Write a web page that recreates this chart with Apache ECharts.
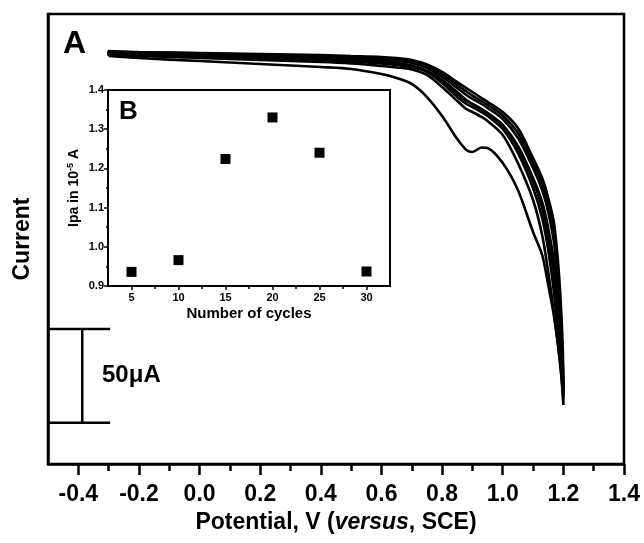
<!DOCTYPE html>
<html>
<head>
<meta charset="utf-8">
<script src="https://cdn.jsdelivr.net/npm/echarts@6/dist/echarts.min.js"></script>
<style>html,body{margin:0;padding:0;background:#fff;}#c{width:644px;height:543px;}</style>
</head>
<body>
<div id="c"></div>
<script>
// ---- Main CV data (potential in V vs SCE, current in µA, arbitrary offset) ----
const potential = [-0.3,-0.2,0,0.2,0.4,0.5,0.6,0.65,0.7,0.75,0.8,0.85,0.88,0.9,0.93,0.95,1.0,1.05,1.1,1.13,1.15,1.17,1.19,1.2];
const fwd1 = [-2.4,-3.5,-5.1,-6.7,-8.3,-9.3,-12.0,-14.1,-17.3,-24.3,-34.4,-46.7,-52.5,-53.6,-51.2,-51.5,-59.5,-73.9,-96.3,-108.5,-124.5,-142.1,-167.2,-188.5];
const fwd2 = [-1.9,-2.4,-3.5,-4.5,-5.6,-6.4,-7.7,-8.5,-9.6,-12.5,-18.9,-26.4,-30.7,-32.3,-34.9,-37.1,-44.5,-59.5,-79.2,-97.9,-117.6,-140.5,-167.2,-184.8];
const fwd3 = [-1.3,-1.9,-2.9,-3.7,-4.5,-5.3,-6.4,-7.2,-8.3,-10.9,-16.8,-24.3,-28.0,-29.6,-32.3,-34.4,-41.3,-54.1,-72.8,-88.8,-105.9,-129.9,-161.9,-181.6];
const fwd4 = [-1.1,-1.6,-2.4,-3.2,-4.0,-4.8,-5.6,-6.7,-7.7,-10.7,-15.7,-22.7,-26.4,-28.0,-30.7,-32.8,-39.2,-51.5,-69.1,-83.5,-99.5,-120.8,-156.5,-179.2];
const revA = [0.3,-0.3,-0.8,-1.3,-1.9,-2.4,-2.9,-3.5,-4.5,-6.9,-10.9,-16.3,-19.5,-21.6,-24.8,-26.9,-32.3,-40.8,-56.8,-67.5,-78.1,-92.5,-129.9,-177.9];
const revB = [-0.3,-0.8,-1.3,-2.1,-2.9,-3.5,-4.3,-5.1,-6.1,-8.8,-13.6,-19.5,-23.2,-25.3,-28.0,-30.1,-36.0,-46.1,-62.1,-73.9,-85.6,-103.2,-143.2,-180.5];
const revC = [-0.5,-1.1,-1.9,-2.7,-3.5,-4.3,-5.1,-6.1,-7.5,-10.4,-15.2,-21.6,-25.9,-28.0,-30.7,-32.8,-39.2,-50.4,-67.5,-80.3,-94.1,-113.9,-151.2,-183.2];
const revD = [0.0,-0.5,-1.0,-1.7,-2.4,-2.9,-3.6,-4.3,-5.3,-7.8,-12.2,-17.9,-21.3,-23.5,-26.4,-28.5,-34.1,-43.5,-59.5,-70.7,-81.9,-97.9,-136.5,-179.2];

// scale bar (50 µA)
const scaleBarX = [-0.5, -0.295];
const scaleBarStemX = -0.387;
const scaleBarY = [-198, -148];

// axis ticks
const xMajorTicks = [-0.4,-0.2,0.0,0.2,0.4,0.6,0.8,1.0,1.2,1.4];
const xMinorTicks = [-0.3,-0.1,0.1,0.3,0.5,0.7,0.9,1.1,1.3];

// ---- Inset data ----
const cycles = [5,10,15,20,25,30];
const ipa = [0.936,0.966,1.224,1.330,1.240,0.937];
const insetXTicks = [5,10,15,20,25,30];
const insetXMinor = [7.5,12.5,17.5,22.5,27.5];
const insetYTicks = [0.9,1.0,1.1,1.2,1.3,1.4];
const insetYMinor = [0.95,1.05,1.15,1.25,1.35];

const FONT = 'Liberation Sans, Arial, sans-serif';

function loop(fwd, rev){
  const d = potential.map((e,i)=>[e,fwd[i]]);
  for(let i=potential.length-1;i>=0;i--) d.push([potential[i],rev[i]]);
  d.push([potential[0],fwd[0]]);
  return d;
}
const loops = [[fwd1,revC],[fwd2,revB],[fwd3,revA],[fwd4,revD]];

const chart = echarts.init(document.getElementById('c'), null, {renderer:'canvas'});
const lineSeries = loops.map((p)=>({
  type:'line', xAxisIndex:0, yAxisIndex:0, data:loop(p[0],p[1]),
  showSymbol:false, smooth:0.3, lineStyle:{color:'#000', width:2.6}, silent:true, z:3
}));
const barLine = (pts)=>({type:'line', xAxisIndex:0, yAxisIndex:0, data:pts, showSymbol:false,
  lineStyle:{color:'#000', width:2.5}, silent:true, z:3});

chart.setOption({
  animation:false,
  backgroundColor:'#fff',
  grid:[
    {left:48, top:14, right:20, bottom:79, show:true, borderColor:'#000', borderWidth:2.5},
    {left:108, top:90, width:282, height:196, show:true, borderColor:'#000', borderWidth:2, backgroundColor:'#fff', z:5}
  ],
  xAxis:[
    {type:'value', gridIndex:0, min:-0.5, max:1.4,
     axisLine:{show:true, onZero:false, lineStyle:{color:'#000', width:2.5}},
     axisTick:{show:true, customValues:xMajorTicks, length:11, lineStyle:{color:'#000', width:2.5}},
     axisLabel:{show:true, customValues:xMajorTicks, margin:19, color:'#000', fontSize:23, fontWeight:'bold', fontFamily:FONT,
       formatter:(v)=>v.toFixed(1)},
     splitLine:{show:false},
     name:'{b|Potential, V (}{i|versus}{b|, SCE)}', nameLocation:'middle', nameGap:46,
     nameTextStyle:{rich:{
       b:{fontSize:23, fontWeight:'bold', fontFamily:FONT, color:'#000'},
       i:{fontSize:23, fontWeight:'bold', fontStyle:'italic', fontFamily:FONT, color:'#000'}}}
    },
    {type:'value', gridIndex:0, min:-0.5, max:1.4, position:'bottom',
     axisLine:{show:false, onZero:false}, axisLabel:{show:false}, splitLine:{show:false},
     axisTick:{show:true, customValues:xMinorTicks, length:7, lineStyle:{color:'#000', width:2.5}}},
    {type:'value', gridIndex:1, min:2.5, max:32.5,
     axisLine:{show:true, onZero:false, lineStyle:{color:'#000', width:2}},
     axisTick:{show:true, customValues:insetXTicks, length:4, lineStyle:{color:'#000', width:1.5}},
     axisLabel:{show:true, customValues:insetXTicks, margin:6, color:'#000', fontSize:11, fontWeight:'bold', fontFamily:FONT},
     splitLine:{show:false},
     name:'Number of cycles', nameLocation:'middle', nameGap:20,
     nameTextStyle:{fontSize:15, fontWeight:'bold', fontFamily:FONT, color:'#000'}},
    {type:'value', gridIndex:1, min:2.5, max:32.5, position:'bottom',
     axisLine:{show:false, onZero:false}, axisLabel:{show:false}, splitLine:{show:false},
     axisTick:{show:true, customValues:insetXMinor, length:3, lineStyle:{color:'#000', width:1.5}}}
  ],
  yAxis:[
    {type:'value', gridIndex:0, min:-220, max:20,
     axisLine:{show:true, onZero:false, lineStyle:{color:'#000', width:2.5}},
     axisTick:{show:false}, axisLabel:{show:false}, splitLine:{show:false},
     name:'Current', nameLocation:'middle', nameGap:14,
     nameTextStyle:{fontSize:23, fontWeight:'bold', fontFamily:FONT, color:'#000'}},
    {type:'value', gridIndex:1, min:0.9, max:1.4,
     axisLine:{show:true, onZero:false, lineStyle:{color:'#000', width:2}},
     axisTick:{show:true, customValues:insetYTicks, length:4, lineStyle:{color:'#000', width:1.5}},
     axisLabel:{show:true, customValues:insetYTicks, margin:4, color:'#000', fontSize:11, fontWeight:'bold', fontFamily:FONT,
       formatter:(v)=>v.toFixed(1)},
     splitLine:{show:false},
     name:'{t|Ipa in 10}{s|-5}{t| A}', nameLocation:'middle', nameGap:25,
     nameTextStyle:{rich:{
       t:{fontSize:14, fontWeight:'bold', fontFamily:FONT, color:'#000'},
       s:{fontSize:9, fontWeight:'bold', fontFamily:FONT, color:'#000', verticalAlign:'top', padding:[0,0,8,0]}}}},
    {type:'value', gridIndex:1, min:0.9, max:1.4, position:'left',
     axisLine:{show:false, onZero:false}, axisLabel:{show:false}, splitLine:{show:false},
     axisTick:{show:true, customValues:insetYMinor, length:2, lineStyle:{color:'#000', width:1.5}}}
  ],
  series:[
    ...lineSeries,
    barLine([[scaleBarX[0],scaleBarY[1]],[scaleBarX[1],scaleBarY[1]]]),
    barLine([[scaleBarX[0],scaleBarY[0]],[scaleBarX[1],scaleBarY[0]]]),
    barLine([[scaleBarStemX,scaleBarY[0]],[scaleBarStemX,scaleBarY[1]]]),
    {type:'scatter', xAxisIndex:2, yAxisIndex:1, data:cycles.map((c,i)=>[c,ipa[i]]),
     symbol:'rect', symbolSize:10, itemStyle:{color:'#000', opacity:1}, silent:true, z:6}
  ],
  graphic:[
    {type:'text', left:63, top:28, z:10, style:{text:'A', font:'bold 32px '+FONT, fill:'#000'}},
    {type:'text', left:119, top:99, z:10, style:{text:'B', font:'bold 26px '+FONT, fill:'#000'}},
    {type:'text', left:102, top:363, z:10, style:{text:'50\u03bcA', font:'bold 24px '+FONT, fill:'#000'}}
  ]
});
</script>
</body>
</html>
